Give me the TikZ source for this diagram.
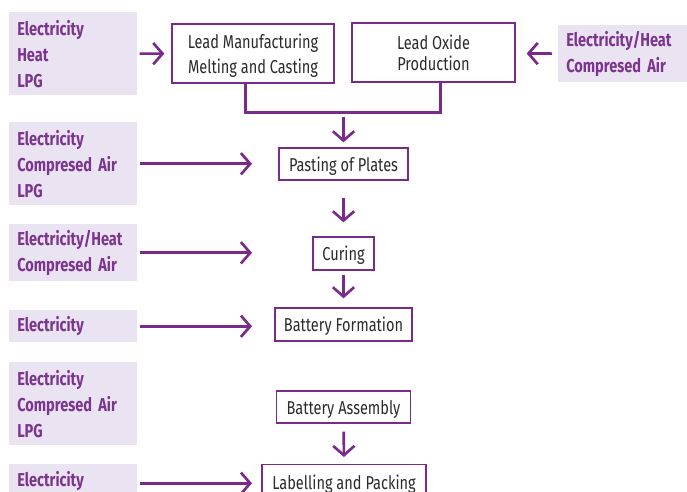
\documentclass[tikz,border=0pt]{standalone}
\usepackage{fontspec}
\setmainfont[FakeStretch=0.78]{Fira Sans}
\usetikzlibrary{arrows.meta}
\definecolor{plum}{HTML}{7A2A8A}
\definecolor{plumtext}{HTML}{7B358F}
\definecolor{lilac}{HTML}{EAE3F1}
\definecolor{ink}{HTML}{2B2B2B}
\tikzset{
  input/.style={fill=lilac, anchor=north west, inner xsep=6pt, inner ysep=0pt,
    text width=84pt, align=left, text=plumtext,
    font=\fontsize{14}{19.5}\selectfont\bfseries},
  stage/.style={draw=plum, line width=1pt, fill=white, align=center, text=ink,
    inner sep=0pt, font=\fontsize{14}{18.75}\selectfont},
  lowered/.style={text depth=0pt},
  conn/.style={draw=plum, line width=2pt},
  arr/.style={conn, -{Straight Barb[length=7pt,width=16pt,line width=2pt]}},
}
\begin{document}
\begin{tikzpicture}[x=0.75pt,y=-0.75pt]
\useasboundingbox (0,0) rectangle (687,492);

% energy inputs
\node[input, minimum height=62.25pt] (in1) at (9,12) {Electricity\\Heat\\LPG};
\node[input, minimum height=62.25pt] (in2) at (9,122) {Electricity\\Compresed Air\\LPG};
\node[input, minimum height=42.75pt] (in3) at (9,224) {Electricity/Heat\\Compresed Air};
\node[input, minimum height=24pt] (in4) at (9,310) {Electricity};
\node[input, minimum height=62.25pt] (in5) at (9,362) {Electricity\\Compresed Air\\LPG};
\node[input, minimum height=25.5pt] (in6) at (9,464) {Electricity};
\node[input, minimum height=42.75pt, text width=91pt] (in7) at (558,25) {Electricity/Heat\\Compresed Air};

% process stages
\node[stage, lowered, minimum width=121.5pt, minimum height=44.25pt] (lead) at (253,53.5)
  {Lead Manufacturing\\Melting and Casting};
\node[stage, minimum width=122.25pt, minimum height=44.25pt,
  font=\fontsize{14}{15.75}\selectfont] (oxide) at (433.5,52.5) {Lead Oxide\\Production};
\node[stage, lowered, minimum width=96.75pt, minimum height=24pt] (paste) at (343.5,164) {Pasting of Plates};
\node[stage, lowered, minimum width=45.75pt, minimum height=24.75pt] (cure) at (343.5,253.5) {Curing};
\node[stage, lowered, minimum width=102.75pt, minimum height=24.75pt] (form) at (343.5,324.5) {Battery Formation};
\node[stage, lowered, minimum width=100.5pt, minimum height=24pt] (assy) at (343.5,407) {Battery Assembly};
\node[stage, lowered, minimum width=123pt, minimum height=27pt, anchor=north] (pack) at (344,464) {Labelling and Packing};

% merging the two first stages
\coordinate (join) at (343.5,112.7);
\draw[conn] ([xshift=-5.5pt]lead.south) |- (join) -| ([xshift=5pt]oxide.south);
\draw[arr, shorten <=3pt, shorten >=3.75pt] (join) -- (paste.north);

% flow between stages
\draw[arr, shorten <=12.75pt, shorten >=10.5pt] (paste) -- (cure);
\draw[arr, shorten <=3pt, shorten >=6.75pt] (cure) -- (form);
\draw[arr, shorten <=6pt, shorten >=5.25pt] (assy) -- (pack.north);

% energy supplied to stages
\coordinate (tipx) at (252,0);
\draw[arr, shorten <=1.5pt, shorten >=5.25pt] (in1) -- (lead);
\draw[arr, shorten <=4.5pt, shorten >=8.25pt] (in7) -- ([yshift=-0.75pt]oxide.east);
\draw[arr, shorten <=1.5pt] (in2.east) -- (in2.east -| tipx);
\draw[arr, shorten <=1.5pt] (in3.east) -- (in3.east -| tipx);
\draw[arr, shorten <=1.5pt] (in4.east) -- (in4.east -| tipx);
\draw[arr, shorten <=1.5pt] ([yshift=-1.5pt]in6.east) -- ([yshift=-1.5pt]in6.east -| tipx);
\end{tikzpicture}
\end{document}
